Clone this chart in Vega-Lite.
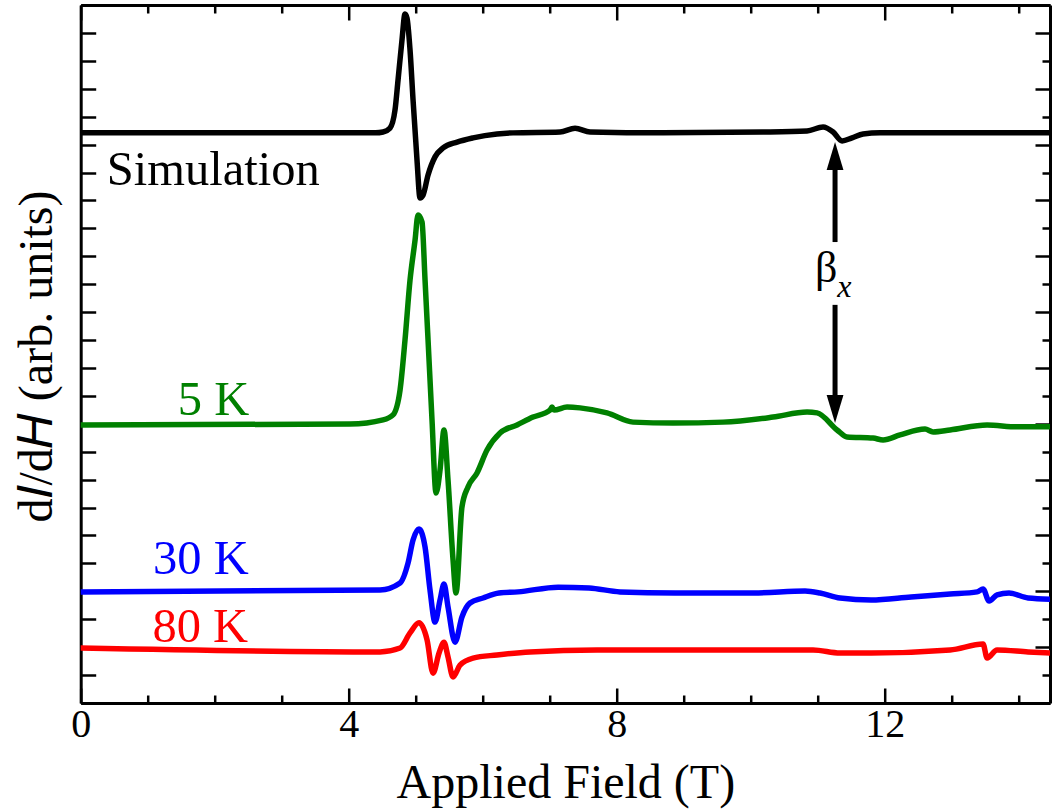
{
  "$schema": "https://vega.github.io/schema/vega-lite/v6.json",
  "autosize": {"type": "none"},
  "padding": {"left": 80.7, "top": 5, "right": 7, "bottom": 107},
  "width": 969.3,
  "height": 698,
  "background": "white",
  "config": {
    "view": {"stroke": null},
    "axis": {
      "grid": false,
      "domainColor": "black",
      "domainWidth": 3,
      "tickColor": "black",
      "tickWidth": 2.5,
      "labelColor": "black",
      "titleColor": "black",
      "labelFont": "Liberation Serif",
      "titleFont": "Liberation Serif",
      "titleFontWeight": "normal",
      "labelFontSize": 40,
      "titleFontSize": 48
    }
  },
  "datasets": {
    "curves": [
      {"series": "Simulation", "H": 0, "dIdH": 20.42},
      {"series": "Simulation", "H": 4.4, "dIdH": 20.42},
      {"series": "Simulation", "H": 4.512, "dIdH": 20.45},
      {"series": "Simulation", "H": 4.616, "dIdH": 20.59},
      {"series": "Simulation", "H": 4.691, "dIdH": 21.24},
      {"series": "Simulation", "H": 4.736, "dIdH": 22.31},
      {"series": "Simulation", "H": 4.795, "dIdH": 23.75},
      {"series": "Simulation", "H": 4.84, "dIdH": 24.68},
      {"series": "Simulation", "H": 4.87, "dIdH": 24.53},
      {"series": "Simulation", "H": 4.915, "dIdH": 23.39},
      {"series": "Simulation", "H": 4.96, "dIdH": 21.6},
      {"series": "Simulation", "H": 5.019, "dIdH": 19.45},
      {"series": "Simulation", "H": 5.064, "dIdH": 18.09},
      {"series": "Simulation", "H": 5.109, "dIdH": 18.19},
      {"series": "Simulation", "H": 5.184, "dIdH": 18.91},
      {"series": "Simulation", "H": 5.288, "dIdH": 19.56},
      {"series": "Simulation", "H": 5.408, "dIdH": 19.88},
      {"series": "Simulation", "H": 5.617, "dIdH": 20.09},
      {"series": "Simulation", "H": 5.855, "dIdH": 20.24},
      {"series": "Simulation", "H": 6.213, "dIdH": 20.38},
      {"series": "Simulation", "H": 6.452, "dIdH": 20.42},
      {"series": "Simulation", "H": 7.154, "dIdH": 20.45},
      {"series": "Simulation", "H": 7.378, "dIdH": 20.59},
      {"series": "Simulation", "H": 7.602, "dIdH": 20.45},
      {"series": "Simulation", "H": 8.691, "dIdH": 20.42},
      {"series": "Simulation", "H": 10.184, "dIdH": 20.45},
      {"series": "Simulation", "H": 10.84, "dIdH": 20.49},
      {"series": "Simulation", "H": 11.079, "dIdH": 20.63},
      {"series": "Simulation", "H": 11.229, "dIdH": 20.45},
      {"series": "Simulation", "H": 11.363, "dIdH": 20.13},
      {"series": "Simulation", "H": 11.512, "dIdH": 20.24},
      {"series": "Simulation", "H": 11.676, "dIdH": 20.38},
      {"series": "Simulation", "H": 11.93, "dIdH": 20.42},
      {"series": "Simulation", "H": 14.466, "dIdH": 20.42},

      {"series": "5 K", "H": 0, "dIdH": 9.96},
      {"series": "5 K", "H": 4.019, "dIdH": 9.99},
      {"series": "5 K", "H": 4.512, "dIdH": 10.14},
      {"series": "5 K", "H": 4.661, "dIdH": 10.32},
      {"series": "5 K", "H": 4.766, "dIdH": 11.21},
      {"series": "5 K", "H": 4.84, "dIdH": 13.0},
      {"series": "5 K", "H": 4.915, "dIdH": 15.15},
      {"series": "5 K", "H": 4.99, "dIdH": 16.58},
      {"series": "5 K", "H": 5.034, "dIdH": 17.48},
      {"series": "5 K", "H": 5.094, "dIdH": 17.23},
      {"series": "5 K", "H": 5.139, "dIdH": 15.15},
      {"series": "5 K", "H": 5.184, "dIdH": 13.0},
      {"series": "5 K", "H": 5.243, "dIdH": 10.14},
      {"series": "5 K", "H": 5.303, "dIdH": 7.52},
      {"series": "5 K", "H": 5.363, "dIdH": 8.35},
      {"series": "5 K", "H": 5.422, "dIdH": 9.78},
      {"series": "5 K", "H": 5.482, "dIdH": 7.99},
      {"series": "5 K", "H": 5.557, "dIdH": 5.12},
      {"series": "5 K", "H": 5.601, "dIdH": 3.94},
      {"series": "5 K", "H": 5.69, "dIdH": 7.02},
      {"series": "5 K", "H": 5.78, "dIdH": 7.74},
      {"series": "5 K", "H": 5.915, "dIdH": 8.24},
      {"series": "5 K", "H": 6.064, "dIdH": 9.06},
      {"series": "5 K", "H": 6.258, "dIdH": 9.67},
      {"series": "5 K", "H": 6.512, "dIdH": 9.96},
      {"series": "5 K", "H": 6.751, "dIdH": 10.24},
      {"series": "5 K", "H": 7.004, "dIdH": 10.49},
      {"series": "5 K", "H": 7.034, "dIdH": 10.6},
      {"series": "5 K", "H": 7.064, "dIdH": 10.49},
      {"series": "5 K", "H": 7.258, "dIdH": 10.6},
      {"series": "5 K", "H": 7.452, "dIdH": 10.57},
      {"series": "5 K", "H": 7.855, "dIdH": 10.39},
      {"series": "5 K", "H": 8.243, "dIdH": 10.06},
      {"series": "5 K", "H": 8.84, "dIdH": 10.03},
      {"series": "5 K", "H": 9.587, "dIdH": 10.06},
      {"series": "5 K", "H": 10.333, "dIdH": 10.24},
      {"series": "5 K", "H": 10.84, "dIdH": 10.42},
      {"series": "5 K", "H": 10.99, "dIdH": 10.39},
      {"series": "5 K", "H": 11.288, "dIdH": 9.78},
      {"series": "5 K", "H": 11.437, "dIdH": 9.53},
      {"series": "5 K", "H": 11.825, "dIdH": 9.49},
      {"series": "5 K", "H": 11.975, "dIdH": 9.42},
      {"series": "5 K", "H": 12.228, "dIdH": 9.6},
      {"series": "5 K", "H": 12.601, "dIdH": 9.81},
      {"series": "5 K", "H": 12.721, "dIdH": 9.71},
      {"series": "5 K", "H": 12.975, "dIdH": 9.78},
      {"series": "5 K", "H": 13.527, "dIdH": 9.96},
      {"series": "5 K", "H": 13.975, "dIdH": 9.89},
      {"series": "5 K", "H": 14.466, "dIdH": 9.89},

      {"series": "30 K", "H": 0, "dIdH": 3.98},
      {"series": "30 K", "H": 4.467, "dIdH": 4.05},
      {"series": "30 K", "H": 4.766, "dIdH": 4.3},
      {"series": "30 K", "H": 4.885, "dIdH": 5.01},
      {"series": "30 K", "H": 4.96, "dIdH": 5.84},
      {"series": "30 K", "H": 5.049, "dIdH": 6.23},
      {"series": "30 K", "H": 5.139, "dIdH": 5.59},
      {"series": "30 K", "H": 5.213, "dIdH": 4.05},
      {"series": "30 K", "H": 5.288, "dIdH": 2.9},
      {"series": "30 K", "H": 5.363, "dIdH": 3.69},
      {"series": "30 K", "H": 5.422, "dIdH": 4.26},
      {"series": "30 K", "H": 5.482, "dIdH": 3.44},
      {"series": "30 K", "H": 5.587, "dIdH": 2.18},
      {"series": "30 K", "H": 5.69, "dIdH": 3.08},
      {"series": "30 K", "H": 5.81, "dIdH": 3.58},
      {"series": "30 K", "H": 6.004, "dIdH": 3.76},
      {"series": "30 K", "H": 6.243, "dIdH": 3.94},
      {"series": "30 K", "H": 6.527, "dIdH": 3.98},
      {"series": "30 K", "H": 7.124, "dIdH": 4.15},
      {"series": "30 K", "H": 7.587, "dIdH": 4.12},
      {"series": "30 K", "H": 8.049, "dIdH": 3.98},
      {"series": "30 K", "H": 8.87, "dIdH": 3.94},
      {"series": "30 K", "H": 10.049, "dIdH": 3.94},
      {"series": "30 K", "H": 10.81, "dIdH": 4.01},
      {"series": "30 K", "H": 11.034, "dIdH": 3.94},
      {"series": "30 K", "H": 11.333, "dIdH": 3.76},
      {"series": "30 K", "H": 11.796, "dIdH": 3.69},
      {"series": "30 K", "H": 12.393, "dIdH": 3.8},
      {"series": "30 K", "H": 12.975, "dIdH": 3.9},
      {"series": "30 K", "H": 13.378, "dIdH": 3.98},
      {"series": "30 K", "H": 13.467, "dIdH": 4.08},
      {"series": "30 K", "H": 13.557, "dIdH": 3.65},
      {"series": "30 K", "H": 13.676, "dIdH": 3.87},
      {"series": "30 K", "H": 13.855, "dIdH": 3.94},
      {"series": "30 K", "H": 14.139, "dIdH": 3.76},
      {"series": "30 K", "H": 14.466, "dIdH": 3.72},

      {"series": "80 K", "H": 0, "dIdH": 1.97},
      {"series": "80 K", "H": 4.467, "dIdH": 1.83},
      {"series": "80 K", "H": 4.766, "dIdH": 1.97},
      {"series": "80 K", "H": 4.915, "dIdH": 2.51},
      {"series": "80 K", "H": 5.049, "dIdH": 2.87},
      {"series": "80 K", "H": 5.169, "dIdH": 2.26},
      {"series": "80 K", "H": 5.258, "dIdH": 1.07},
      {"series": "80 K", "H": 5.348, "dIdH": 1.79},
      {"series": "80 K", "H": 5.422, "dIdH": 2.18},
      {"series": "80 K", "H": 5.482, "dIdH": 1.65},
      {"series": "80 K", "H": 5.557, "dIdH": 0.93},
      {"series": "80 K", "H": 5.661, "dIdH": 1.36},
      {"series": "80 K", "H": 5.855, "dIdH": 1.61},
      {"series": "80 K", "H": 6.213, "dIdH": 1.72},
      {"series": "80 K", "H": 6.706, "dIdH": 1.83},
      {"series": "80 K", "H": 7.706, "dIdH": 1.9},
      {"series": "80 K", "H": 9.467, "dIdH": 1.9},
      {"series": "80 K", "H": 10.93, "dIdH": 1.9},
      {"series": "80 K", "H": 11.333, "dIdH": 1.79},
      {"series": "80 K", "H": 11.796, "dIdH": 1.79},
      {"series": "80 K", "H": 12.975, "dIdH": 1.9},
      {"series": "80 K", "H": 13.467, "dIdH": 2.11},
      {"series": "80 K", "H": 13.527, "dIdH": 1.61},
      {"series": "80 K", "H": 13.676, "dIdH": 1.9},
      {"series": "80 K", "H": 14.139, "dIdH": 1.83},
      {"series": "80 K", "H": 14.466, "dIdH": 1.79}
    ],
    "labels": [
      {"series": "Simulation", "H": 0.39, "dIdH": 18.55, "label": "Simulation"},
      {"series": "5 K", "H": 1.45, "dIdH": 10.32, "label": "5 K"},
      {"series": "30 K", "H": 1.08, "dIdH": 4.62, "label": "30 K"},
      {"series": "80 K", "H": 1.07, "dIdH": 2.18, "label": "80 K"}
    ],
    "shafts": [
      {"H": 11.258, "top": 19.16, "bottom": 16.51},
      {"H": 11.258, "top": 14.26, "bottom": 10.96}
    ],
    "headUp": [{"H": 11.258, "dIdH": 19.59}],
    "headDown": [{"H": 11.258, "dIdH": 10.53}],
    "beta": [{"H": 10.96, "dIdH": 15.08, "label": "β"}],
    "betaSub": [{"H": 11.29, "dIdH": 14.54, "label": "x"}]
  },
  "resolve": {"axis": {"x": "independent", "y": "independent"}},
  "layer": [
    {
      "data": {"name": "curves"},
      "mark": {"type": "line", "strokeWidth": 5.5, "strokeJoin": "round", "strokeCap": "round", "interpolate": "monotone", "clip": true},
      "encoding": {
        "x": {
          "field": "H", "type": "quantitative",
          "scale": {"domain": [0, 14.466], "nice": false, "zero": false},
          "axis": {
            "orient": "bottom",
            "title": "Applied Field (T)",
            "values": [0, 1, 2, 3, 4, 5, 6, 7, 8, 9, 10, 11, 12, 13, 14],
            "labelExpr": "datum.value % 4 === 0 ? datum.label : ''",
            "format": "d",
            "tickSize": {"condition": {"test": "datum.value % 4 === 0", "value": -15}, "value": -8},
            "labelPadding": 16,
            "labelFlush": false,
            "labelOverlap": false,
            "titleBaseline": "alphabetic",
            "titleY": 94
          }
        },
        "y": {
          "field": "dIdH", "type": "quantitative",
          "scale": {"domain": [0, 25], "nice": false, "zero": false},
          "axis": {
            "orient": "left",
            "title": "d𝐼/d𝐻 (arb. units)",
            "values": [0, 1, 2, 3, 4, 5, 6, 7, 8, 9, 10, 11, 12, 13, 14, 15, 16, 17, 18, 19, 20, 21, 22, 23, 24, 25],
            "labels": false,
            "tickSize": -15,
            "titleBaseline": "alphabetic",
            "titleX": -29,
            "titleY": 351,
            "titleAngle": -90
          }
        },
        "color": {
          "field": "series", "type": "nominal",
          "scale": {"domain": ["Simulation", "5 K", "30 K", "80 K"], "range": ["#000000", "#008000", "#0000ff", "#ff0000"]},
          "legend": null
        }
      }
    },
    {
      "data": {"name": "labels"},
      "mark": {"type": "text", "align": "left", "baseline": "alphabetic", "font": "Liberation Serif", "fontSize": 48.5},
      "encoding": {
        "x": {
          "field": "H", "type": "quantitative",
          "scale": {"domain": [0, 14.466], "nice": false, "zero": false},
          "axis": {
            "orient": "top",
            "title": null,
            "values": [0, 1, 2, 3, 4, 5, 6, 7, 8, 9, 10, 11, 12, 13, 14],
            "labels": false,
            "tickSize": {"condition": {"test": "datum.value % 4 === 0", "value": -15}, "value": -8}
          }
        },
        "y": {
          "field": "dIdH", "type": "quantitative",
          "scale": {"domain": [0, 25], "nice": false, "zero": false},
          "axis": {
            "orient": "right",
            "title": null,
            "values": [0, 1, 2, 3, 4, 5, 6, 7, 8, 9, 10, 11, 12, 13, 14, 15, 16, 17, 18, 19, 20, 21, 22, 23, 24, 25],
            "labels": false,
            "tickSize": {"condition": {"test": "datum.value % 2 === 0", "value": -15}, "value": -8}
          }
        },
        "text": {"field": "label"},
        "color": {"field": "series", "type": "nominal", "legend": null}
      }
    },
    {
      "data": {"name": "shafts"},
      "mark": {"type": "rule", "strokeWidth": 5, "color": "black"},
      "encoding": {
        "x": {"field": "H", "type": "quantitative", "scale": {"domain": [0, 14.466], "nice": false, "zero": false}, "axis": null},
        "y": {"field": "top", "type": "quantitative", "scale": {"domain": [0, 25], "nice": false, "zero": false}, "axis": null},
        "y2": {"field": "bottom"}
      }
    },
    {
      "data": {"name": "headUp"},
      "mark": {"type": "point", "shape": "M0,-1L0.6,1L-0.6,1Z", "size": 784, "filled": true, "color": "black", "opacity": 1},
      "encoding": {
        "x": {"field": "H", "type": "quantitative", "scale": {"domain": [0, 14.466], "nice": false, "zero": false}, "axis": null},
        "y": {"field": "dIdH", "type": "quantitative", "scale": {"domain": [0, 25], "nice": false, "zero": false}, "axis": null}
      }
    },
    {
      "data": {"name": "headDown"},
      "mark": {"type": "point", "shape": "M0,1L0.6,-1L-0.6,-1Z", "size": 784, "filled": true, "color": "black", "opacity": 1},
      "encoding": {
        "x": {"field": "H", "type": "quantitative", "scale": {"domain": [0, 14.466], "nice": false, "zero": false}, "axis": null},
        "y": {"field": "dIdH", "type": "quantitative", "scale": {"domain": [0, 25], "nice": false, "zero": false}, "axis": null}
      }
    },
    {
      "data": {"name": "beta"},
      "mark": {"type": "text", "align": "left", "baseline": "alphabetic", "font": "Liberation Serif", "fontSize": 44, "color": "black"},
      "encoding": {
        "x": {"field": "H", "type": "quantitative", "scale": {"domain": [0, 14.466], "nice": false, "zero": false}, "axis": null},
        "y": {"field": "dIdH", "type": "quantitative", "scale": {"domain": [0, 25], "nice": false, "zero": false}, "axis": null},
        "text": {"field": "label"}
      }
    },
    {
      "data": {"name": "betaSub"},
      "mark": {"type": "text", "align": "left", "baseline": "alphabetic", "font": "Liberation Serif", "fontSize": 32, "fontStyle": "italic", "color": "black"},
      "encoding": {
        "x": {"field": "H", "type": "quantitative", "scale": {"domain": [0, 14.466], "nice": false, "zero": false}, "axis": null},
        "y": {"field": "dIdH", "type": "quantitative", "scale": {"domain": [0, 25], "nice": false, "zero": false}, "axis": null},
        "text": {"field": "label"}
      }
    }
  ]
}
